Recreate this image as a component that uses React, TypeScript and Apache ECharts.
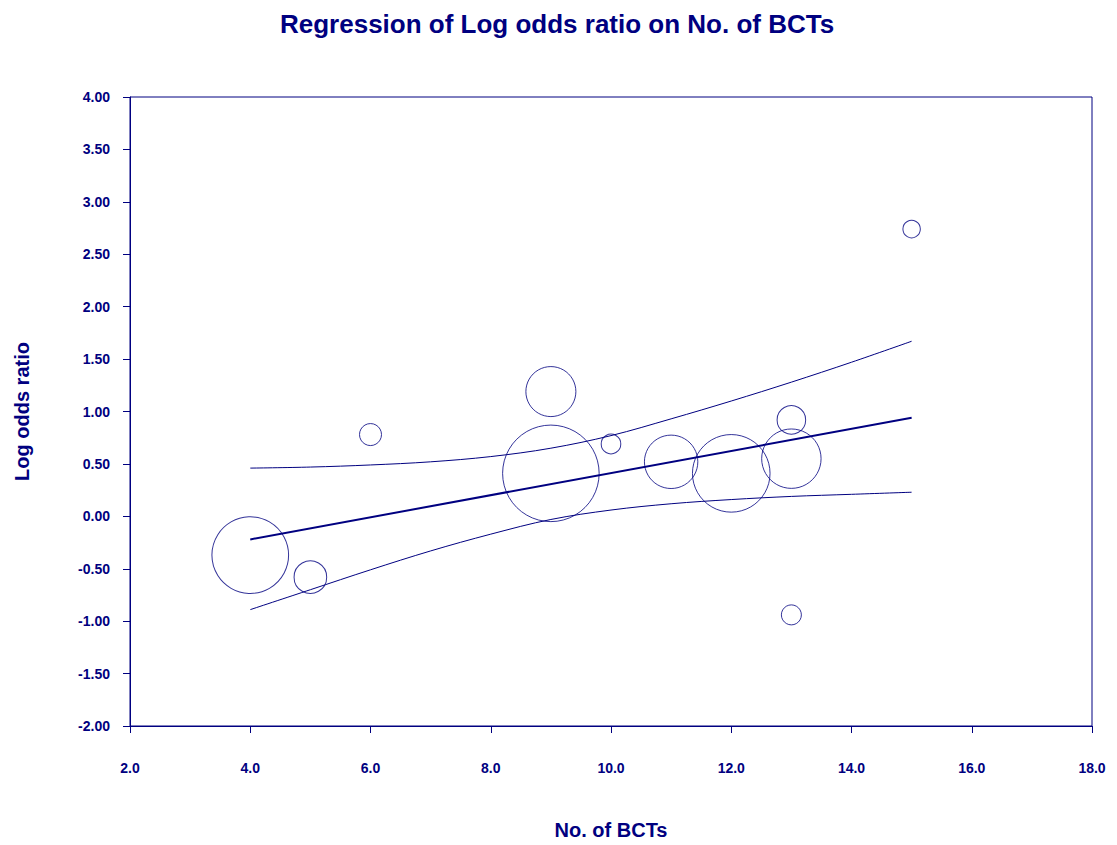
import React, { useEffect, useRef } from "react";
import * as echarts from "echarts";

// Studies: number of BCTs, log odds ratio, relative weight (bubble area)
const bctCounts = [4, 5, 6, 9, 9, 10, 11, 12, 13, 13, 13, 15];
const logOddsRatios = [-0.37, -0.58, 0.78, 0.41, 1.19, 0.69, 0.52, 0.41, 0.55, 0.92, -0.94, 2.74];
const studyWeights = [14.7, 2.66, 1.21, 23.3, 6.25, 0.96, 7.13, 15.05, 8.82, 2.04, 1.0, 0.76];

// Fitted regression line
const fitX = [4, 15];
const fitY = [-0.22, 0.94];

// Confidence band
const bandX = [4, 5, 6, 7, 8, 9, 10, 11, 12, 13, 14, 15];
const bandUpper = [0.46, 0.47, 0.49, 0.52, 0.57, 0.65, 0.77, 0.93, 1.1, 1.28, 1.47, 1.67];
const bandLower = [-0.89, -0.7, -0.51, -0.33, -0.17, -0.03, 0.06, 0.12, 0.16, 0.19, 0.21, 0.23];

const NAVY = "#000080";
const FONT = "Liberation Sans, Arial, sans-serif";

export default function App() {
  const ref = useRef<HTMLDivElement>(null);
  useEffect(() => {
    if (!ref.current) return;
    const chart = echarts.init(ref.current, null, { renderer: "svg" });
    const bubbles = bctCounts.map((x, i) => [x, logOddsRatios[i], studyWeights[i]]);
    chart.setOption({
      animation: false,
      backgroundColor: "#ffffff",
      title: {
        text: "Regression of Log odds ratio on No. of BCTs",
        left: 275,
        top: 6,
        textStyle: { color: NAVY, fontFamily: FONT, fontWeight: "bold", fontSize: 26 },
      },
      grid: {
        left: 130,
        top: 97,
        width: 962,
        height: 634,
        show: true,
        borderColor: NAVY,
        borderWidth: 1,
        backgroundColor: "transparent",
      },
      xAxis: {
        type: "value",
        min: 2,
        max: 18,
        interval: 2,
        name: "No. of BCTs",
        nameLocation: "middle",
        nameGap: 94,
        nameTextStyle: { color: NAVY, fontFamily: FONT, fontWeight: "bold", fontSize: 20 },
        axisLine: { show: true, onZero: false, lineStyle: { color: NAVY, width: 1 } },
        axisTick: { show: true, inside: false, length: 7, lineStyle: { color: NAVY } },
        axisLabel: {
          color: NAVY,
          fontFamily: FONT,
          fontWeight: "bold",
          fontSize: 14,
          margin: 35,
          formatter: (v: number) => v.toFixed(1),
        },
        splitLine: { show: false },
      },
      yAxis: {
        type: "value",
        min: -2,
        max: 4,
        interval: 0.5,
        name: "Log odds ratio",
        nameLocation: "middle",
        nameGap: 98,
        nameTextStyle: { color: NAVY, fontFamily: FONT, fontWeight: "bold", fontSize: 20 },
        axisLine: { show: true, onZero: false, lineStyle: { color: NAVY, width: 1 } },
        axisTick: { show: true, inside: false, length: 7, lineStyle: { color: NAVY } },
        axisLabel: {
          color: NAVY,
          fontFamily: FONT,
          fontWeight: "bold",
          fontSize: 14,
          margin: 20,
          formatter: (v: number) => v.toFixed(2),
        },
        splitLine: { show: false },
      },
      series: [
        {
          type: "line",
          data: bandX.map((x, i) => [x, bandUpper[i]]),
          symbol: "none",
          smooth: 0.35,
          lineStyle: { color: NAVY, width: 1 },
        },
        {
          type: "line",
          data: bandX.map((x, i) => [x, bandLower[i]]),
          symbol: "none",
          smooth: 0.35,
          lineStyle: { color: NAVY, width: 1 },
        },
        {
          type: "line",
          data: fitX.map((x, i) => [x, fitY[i]]),
          symbol: "none",
          lineStyle: { color: NAVY, width: 2 },
        },
        {
          type: "scatter",
          data: bubbles,
          symbol: "circle",
          symbolSize: (val: number[]) => 20 * Math.sqrt(val[2]),
          itemStyle: { color: "transparent", borderColor: NAVY, borderWidth: 1 },
        },
      ],
    });
    return () => chart.dispose();
  }, []);
  return (
    <div
      ref={ref}
      style={{ position: "fixed", left: 0, top: 0, width: 1117, height: 845, background: "#fff" }}
    />
  );
}
